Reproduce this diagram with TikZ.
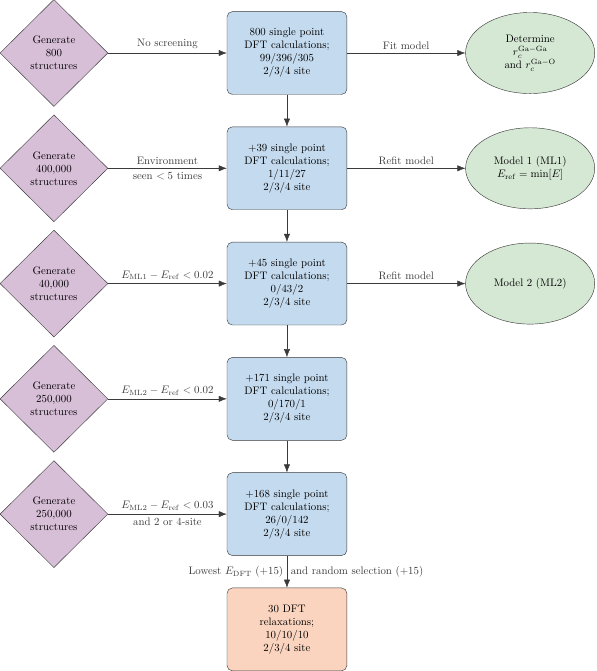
\documentclass[tikz,border=0pt]{standalone}
\usepackage{amsmath, amssymb}
\usepackage{tikz}
\usetikzlibrary{arrows.meta, positioning, shapes.geometric, calc}
\definecolor{mPurple}{HTML}{D8BFD8}
\definecolor{mBlue}{HTML}{C4DAEE}
\definecolor{mGreen}{HTML}{D5E8D4}
\definecolor{mOrange}{HTML}{FAD4BE}
\definecolor{mEdge}{HTML}{3A3A3A}

\begin{document}
\begin{tikzpicture}[
      gen/.style={diamond, draw=mEdge, fill=mPurple, align=center,
        minimum width=3.5cm, minimum height=3.47cm, inner sep=0pt},
      calc/.style={draw=mEdge, fill=mBlue, rounded corners=5pt, align=center,
        minimum width=3.89cm, minimum height=2.69cm},
      relax/.style={calc, fill=mOrange},
      model/.style={ellipse, draw=mEdge, fill=mGreen, align=center,
        minimum width=4.19cm, minimum height=2.63cm, inner sep=0pt},
      arr/.style={-{Latex[length=2.6mm, width=2mm]}, mEdge}]
    \useasboundingbox (-1.75,1.72) rectangle (17.59,-20.05);

    % generation steps
    \node[gen] (g1) at (0, 0)      {Generate\\800\\structures};
    \node[gen] (g2) at (0, -3.74)  {Generate\\400,000\\structures};
    \node[gen] (g3) at (0, -7.48)  {Generate\\40,000\\structures};
    \node[gen] (g4) at (0, -11.22) {Generate\\250,000\\structures};
    \node[gen] (g5) at (0, -14.96) {Generate\\250,000\\structures};

    % DFT batches
    \node[calc] (c1) at (7.56, 0)      {800 single point\\DFT calculations;\\99/396/305\\2/3/4 site};
    \node[calc] (c2) at (7.56, -3.74)  {+39 single point\\DFT calculations;\\1/11/27\\2/3/4 site};
    \node[calc] (c3) at (7.56, -7.48)  {+45 single point\\DFT calculations;\\0/43/2\\2/3/4 site};
    \node[calc] (c4) at (7.56, -11.22) {+171 single point\\DFT calculations;\\0/170/1\\2/3/4 site};
    \node[calc] (c5) at (7.56, -14.96) {+168 single point\\DFT calculations;\\26/0/142\\2/3/4 site};
    \node[relax] (r1) at (7.56, -18.70) {30 DFT\\relaxations;\\10/10/10\\2/3/4 site};

    % models
    \node[model] (m1) at (15.45, 0)     {Determine\\$r_c^{\mathrm{Ga-Ga}}$\\and $r_c^{\mathrm{Ga-O}}$};
    \node[model] (m2) at (15.45, -3.74) {Model 1 (ML1)\\$E_{\mathrm{ref}} = \min[E]$};
    \node[model] (m3) at (15.45, -7.48) {Model 2 (ML2)};

    \draw[arr] (g1) -- node[above] {No screening} (c1);
    \draw[arr] (g2) -- node[above] {Environment} node[below] {seen $<5$ times} (c2);
    \draw[arr] (g3) -- node[above] {$E_{\mathrm{ML1}}-E_{\mathrm{ref}}<0.02$} (c3);
    \draw[arr] (g4) -- node[above] {$E_{\mathrm{ML2}}-E_{\mathrm{ref}}<0.02$} (c4);
    \draw[arr] (g5) -- node[above] {$E_{\mathrm{ML2}}-E_{\mathrm{ref}}<0.03$} node[below] {and 2 or 4-site} (c5);

    \draw[arr] (c1) -- node[above] {Fit model} (m1);
    \draw[arr] (c2) -- node[above] {Refit model} (m2);
    \draw[arr] (c3) -- node[above] {Refit model} (m3);

    \foreach \a/\b in {c1/c2, c2/c3, c3/c4, c4/c5} {
      \draw[arr] (\a) -- (\b);
    }
    \draw[arr] (c5) -- node[left] {Lowest $E_{\mathrm{DFT}}$ (+15)} node[right] {and random selection (+15)} (r1);
  \end{tikzpicture}
\end{document}
